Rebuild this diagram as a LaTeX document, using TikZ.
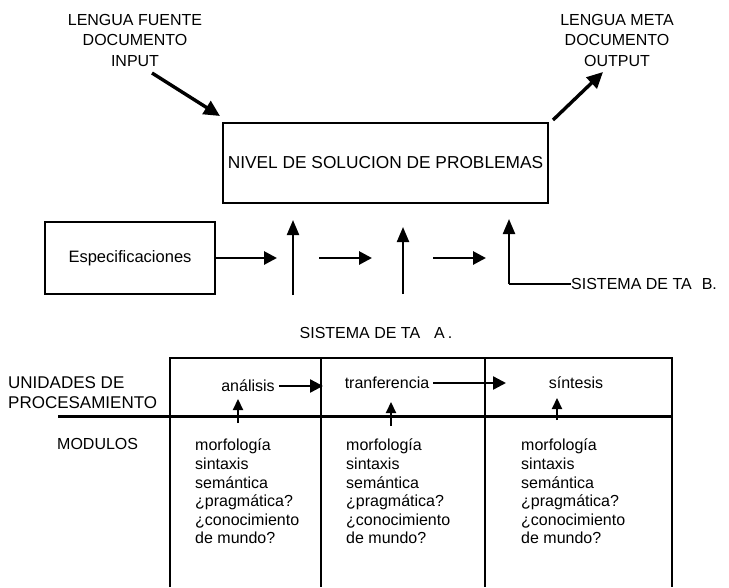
\documentclass[tikz,border=0pt]{standalone}
\usepackage{fontspec}
\setmainfont{Liberation Sans}
\usetikzlibrary{arrows.meta,calc}
\begin{document}
\begin{tikzpicture}[x=1pt,y=-1pt,
  lbl/.style={font=\fontsize{16}{20.5}\selectfont, inner sep=0pt},
  modtxt/.style={font=\fontsize{16}{18.6}\selectfont, inner sep=0pt, align=left, anchor=north west},
  box/.style={draw, line width=1.5pt},
  bigarrow/.style={line width=3.4pt, -{Triangle[length=16pt,width=15pt]}},
  harrow/.style={line width=2.8pt, -{Triangle[length=13pt,width=13pt]}},
  varrow/.style={line width=2.2pt, -{Triangle[length=15pt,width=12pt]}},
  sarrow/.style={line width=2.2pt, -{Triangle[length=11pt,width=10pt]}},
  tline/.style={line width=2pt},
  thinline/.style={line width=1.4pt},
]
\useasboundingbox (0,0) rectangle (729,587);

% top labels
\node[lbl, align=center] (src) at (135,40) {LENGUA FUENTE\\DOCUMENTO\\INPUT};
\node[lbl, align=center] (tgt) at (617,40) {LENGUA META\\DOCUMENTO\\OUTPUT};

% problem solving box
\node[box, minimum width=325pt, minimum height=80pt, font=\fontsize{17.3}{20}\selectfont] (nivel) at (385.5,163) {NIVEL DE SOLUCION DE PROBLEMAS};

\coordinate (inS) at (152,73);
\coordinate (inE) at (220,116);
\coordinate (outS) at (553,120);
\coordinate (outE) at (603,72);
\draw[bigarrow] (inS) -- (inE);
\draw[bigarrow] (outS) -- (outE);

% specifications
\node[box, minimum width=170pt, minimum height=72pt, lbl, font=\fontsize{16.5}{20}\selectfont] (espec) at (130,258) {Especificaciones};

\coordinate (h1e) at (277,258);
\coordinate (h2s) at (319,258);
\coordinate (h2e) at (372,258);
\coordinate (h3s) at (433,258);
\coordinate (h3e) at (486,258);
\draw[harrow] (espec.east) -- (h1e);
\draw[harrow] (h2s) -- (h2e);
\draw[harrow] (h3s) -- (h3e);

\coordinate (v1b) at (293,295);
\coordinate (v1t) at (293,220);
\coordinate (v2b) at (403,294);
\coordinate (v2t) at (403,227);
\coordinate (v3c) at (509,284);
\coordinate (v3t) at (509,219);
\draw[varrow] (v1b) -- (v1t);
\draw[varrow] (v2b) -- (v2t);
\draw[varrow] (v3c) -- (v3t);

\node[lbl, anchor=west] (sisB) at (571,284) {SISTEMA DE TA\hspace{10pt}B.};
\draw[thinline] (sisB.west) -- (v3c);

\node[lbl] (sisA) at (376,333) {SISTEMA DE TA\hspace{14pt}A\hspace{3pt}.};

% table
\draw[tline] (170,587) -- (170,358) -- (672,358) -- (672,587);
\draw[tline] (321,358) -- (321,587);
\draw[tline] (485,358) -- (485,587);
\draw[line width=3pt] (58,416) -- (672,416);

\node[lbl, align=left, anchor=west, font=\fontsize{17}{19.5}\selectfont] (unid) at (8,392.5) {UNIDADES DE\\PROCESAMIENTO};
\node[lbl, anchor=west] (modu) at (57,444) {MODULOS};

\node[lbl] (anal) at (248,386) {análisis};
\node[lbl] (tran) at (387,383) {tranferencia};
\node[lbl] (sint) at (576,383) {síntesis};

\coordinate (a1e) at (323,386);
\coordinate (a2e) at (506,383);
\draw[harrow, line width=2.4pt] (anal.east) ++(4,0) -- (a1e);
\draw[harrow, line width=2.4pt] (tran.east) ++(4,0) -- (a2e);

\coordinate (u1b) at (238,423);
\coordinate (u1t) at (238,399);
\coordinate (u2b) at (391,426);
\coordinate (u2t) at (391,402);
\coordinate (u3b) at (557,420);
\coordinate (u3t) at (557,398);
\draw[sarrow] (u1b) -- (u1t);
\draw[sarrow] (u2b) -- (u2t);
\draw[sarrow] (u3b) -- (u3t);

\node[modtxt] (m1) at (195,439) {morfología\\sintaxis\\semántica\\¿pragmática?\\¿conocimiento\\de mundo?};
\node[modtxt] (m2) at (346,439) {morfología\\sintaxis\\semántica\\¿pragmática?\\¿conocimiento\\de mundo?};
\node[modtxt] (m3) at (521,439) {morfología\\sintaxis\\semántica\\¿pragmática?\\¿conocimiento\\de mundo?};
\end{tikzpicture}
\end{document}
